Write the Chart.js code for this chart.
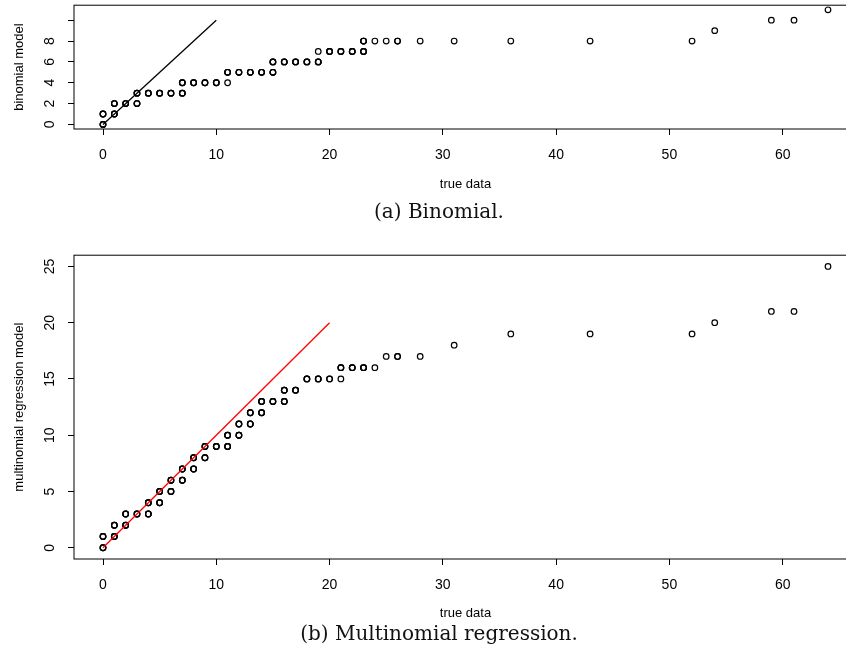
<!DOCTYPE html>
<html>
<head>
<meta charset="utf-8">
<script src="https://cdn.jsdelivr.net/npm/chart.js@4.4.1/dist/chart.umd.min.js"></script>
<style>
html,body{margin:0;padding:0;background:#fff;width:846px;height:652px;overflow:hidden;}
#wrap{position:relative;width:846px;height:652px;overflow:hidden;}
canvas{position:absolute;left:0;}
#chart1canvas{top:0;}
#chart2canvas{top:250px;}
.caption{position:absolute;left:0;width:878px;text-align:center;font-family:"DejaVu Serif",serif;font-size:20px;line-height:24px;color:#111;}
</style>
</head>
<body>
<div id="wrap">
  <canvas id="chart1canvas" width="870" height="200"></canvas>
  <canvas id="chart2canvas" width="870" height="380"></canvas>
  <div class="caption" style="top:199px;">(a) Binomial.</div>
  <div class="caption" style="top:621px;">(b) Multinomial regression.</div>
</div>
<script>
/* Panel (a): binomial model against true data (n = how many observations overlap) */
const binX=[0,0,1,1,2,3,3,4,5,6,7,7,8,9,10,11,11,12,13,14,15,15,16,17,18,19,19,20,21,22,23,23,24,25,26,28,31,36,43,52,54,59,61,64];
const binY=[0,1,1,2,2,2,3,3,3,3,3,4,4,4,4,4,5,5,5,5,5,6,6,6,6,6,7,7,7,7,7,8,8,8,8,8,8,8,8,8,9,10,10,11];
const binN=[3,3,3,3,3,3,3,3,3,3,3,3,3,3,3,1,3,3,3,3,3,3,3,3,3,3,1,3,3,3,3,3,1,1,2,1,1,1,1,1,1,1,1,1];
const binLineX=[0,10];
const binLineY=[0,10];
const binYTicks=[0,2,4,6,8,10];
const binYTickLabels=["0","2","4","6","8",""];

/* Panel (b): multinomial regression model against true data */
const mnX=[0,0,1,1,2,2,3,4,4,5,5,6,6,7,7,8,8,9,9,10,11,11,12,12,13,13,14,14,15,16,16,17,18,19,20,21,21,22,23,24,25,26,28,31,36,43,52,54,59,61,64];
const mnY=[0,1,1,2,2,3,3,3,4,4,5,5,6,6,7,7,8,8,9,9,9,10,10,11,11,12,12,13,13,13,14,14,15,15,15,15,16,16,16,16,17,17,17,18,19,19,19,20,21,21,25];
const mnN=[3,3,3,3,3,3,3,3,3,3,3,3,3,3,3,3,3,3,3,3,3,3,3,3,3,3,3,3,3,3,3,3,3,3,2,1,3,3,3,1,1,2,1,1,1,1,1,1,1,1,1];
const mnLineX=[0,20];
const mnLineY=[0,20];
const mnYTicks=[0,5,10,15,20,25];
const mnYTickLabels=["0","5","10","15","20","25"];

/* Shared x axis */
const xTicks=[0,10,20,30,40,50,60];
const xTickLabels=["0","10","20","30","40","50","60"];

const fontFamily='"Liberation Sans", Arial, Helvetica, sans-serif';

/**
 * Repeats each point as often as it was observed (overplotting like in R).
 */
function expandPoints(xs, ys, ns) {
  const pts=[];
  for (let i=0;i<xs.length;i++) for (let k=0;k<ns[i];k++) pts.push({x: xs[i], y: ys[i]});
  return pts;
}

/**
 * Draws the box around the plot and the rotated y tick labels (R style).
 */
const rFramePlugin={
  id: 'rFrame',
  afterDraw(chart, args, opts) {
    const {ctx, chartArea: a, scales}=chart;
    ctx.save();
    ctx.strokeStyle='#000';
    ctx.lineWidth=1;
    ctx.strokeRect(a.left, a.top, a.right-a.left, a.bottom-a.top);
    ctx.fillStyle='#000';
    ctx.font='14px '+fontFamily;
    ctx.textAlign='center';
    ctx.textBaseline='middle';
    opts.values.forEach((v,i)=>{
      const lab=opts.labels[i];
      if (!lab) return;
      const y=scales.y.getPixelForValue(v);
      ctx.save();
      ctx.translate(opts.labelX, y);
      ctx.rotate(-Math.PI/2);
      ctx.fillText(lab, 0, 0);
      ctx.restore();
    });
    ctx.restore();
  }
};

function makePanel(canvas, p) {
  return new Chart(canvas, {
    data: {
      datasets: [
        {type: 'line', data: p.lineX.map((x,i)=>({x: x, y: p.lineY[i]})), borderColor: p.lineColor, borderWidth: 1.3, pointRadius: 0, fill: false},
        {type: 'scatter', data: expandPoints(p.xs, p.ys, p.ns), borderColor: '#000', backgroundColor: 'rgba(0,0,0,0)', borderWidth: 1.2, pointRadius: 2.8, pointStyle: 'circle'}
      ]
    },
    options: {
      responsive: false,
      animation: false,
      events: [],
      layout: {padding: {left: 0, top: 5, right: 13, bottom: 0}},
      scales: {
        x: {
          type: 'linear', position: 'bottom', min: -2.56, max: 66.56,
          afterBuildTicks: s=>{s.ticks=xTicks.map(v=>({value: v}));},
          afterFit: s=>{s.height=p.xHeight;},
          ticks: {callback: (v,i)=>xTickLabels[i], color: '#000', font: {family: fontFamily, size: 14}, padding: 12, maxRotation: 0, autoSkip: false},
          grid: {drawOnChartArea: false, drawTicks: true, tickLength: 6, color: '#000', lineWidth: 1},
          border: {display: false},
          title: {display: true, text: 'true data', color: '#000', font: {family: fontFamily, size: 13}, padding: {top: 0, bottom: p.titlePad}}
        },
        y: {
          type: 'linear', position: 'left', min: p.yMin, max: p.yMax,
          afterBuildTicks: s=>{s.ticks=p.yTicks.map(v=>({value: v}));},
          afterFit: s=>{s.width=74;},
          ticks: {display: false},
          grid: {drawOnChartArea: false, drawTicks: true, tickLength: 6, color: '#000', lineWidth: 1},
          border: {display: false},
          title: {display: true, text: p.yTitle, color: '#000', font: {family: fontFamily, size: 13}, padding: {top: 12, bottom: 0}}
        }
      },
      plugins: {
        legend: {display: false},
        tooltip: {enabled: false},
        rFrame: {values: p.yTicks, labels: p.yTickLabels, labelX: 50}
      }
    },
    plugins: [rFramePlugin]
  });
}

makePanel(chart1canvas, {
  xs: binX, ys: binY, ns: binN, lineX: binLineX, lineY: binLineY, lineColor: '#000',
  yMin: -0.44, yMax: 11.44, yTicks: binYTicks, yTickLabels: binYTickLabels,
  yTitle: 'binomial model', xHeight: 71, titlePad: 8
});

makePanel(chart2canvas, {
  xs: mnX, ys: mnY, ns: mnN, lineX: mnLineX, lineY: mnLineY, lineColor: '#ff0000',
  yMin: -1, yMax: 26, yTicks: mnYTicks, yTickLabels: mnYTickLabels,
  yTitle: 'multinomial regression model', xHeight: 71, titlePad: 9
});
</script>
</body>
</html>
